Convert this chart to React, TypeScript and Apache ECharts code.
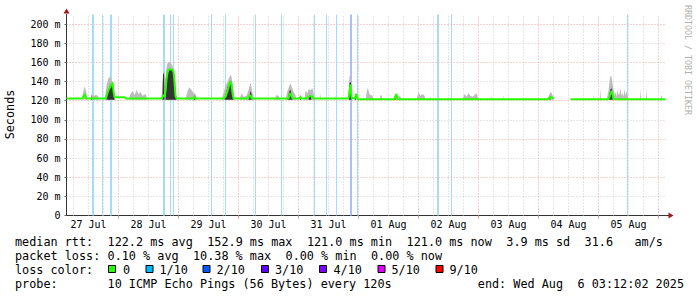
import React, { useEffect, useRef } from "react";
import * as echarts from "echarts";

// Time axis: hours since 27 Jul 2025 00:00
const rangeStartH = 3.2; // 27 Jul 03:12:02
const rangeEndH = 243.2; // 06 Aug 03:12:02
const dayLabels = ["27 Jul", "28 Jul", "29 Jul", "30 Jul", "31 Jul", "01 Aug", "02 Aug", "03 Aug", "04 Aug", "05 Aug"];
const dayLabelHours = [12, 36, 60, 84, 108, 132, 156, 180, 204, 228];
const midnightHours = [24, 48, 72, 96, 120, 144, 168, 192, 216, 240];
const yLabelValues = [0, 20, 40, 60, 80, 100, 120, 140, 160, 180, 200];

// Smoke (outer, light) – upper edge of ping spread, ms
const outerT = [3.2, 9.6, 10.0, 10.4, 10.8, 11.2, 11.6, 12.8, 13.2, 14.0, 15.2, 16.0, 16.4,
  18.4, 18.8, 19.2, 19.6, 20.0, 20.4, 20.8, 21.2, 21.6, 22.0, 22.4, 22.8,
  28.0, 28.8, 29.6, 30.4, 31.2, 32.0, 32.8, 33.6, 34.8, 35.6,
  41.2, 41.6, 42.0, 42.4, 42.8, 43.2, 43.6, 44.0, 44.8, 45.2, 45.6, 46.0, 46.4, 46.8, 47.2,
  50.8, 51.6, 52.4, 53.2, 54.0, 54.8, 55.6,
  65.2, 66.0, 66.8, 67.6, 68.4, 68.8, 69.2, 69.6, 70.0, 70.4,
  72.4, 73.2, 74.0, 75.2, 76.0, 76.8, 77.2, 77.6, 78.0, 78.4,
  86.4, 87.2, 88.0, 88.8,
  90.8, 91.6, 92.4, 92.8, 93.2, 94.0, 94.8, 95.2,
  98.4, 98.8, 99.6, 100.0, 100.8, 101.6, 102.0, 102.4,
  104.6, 104.8, 105.0, 110.6, 110.8, 111.0,
  116.0, 116.4, 116.8, 117.2, 118.4, 118.8, 119.2,
  122.8, 123.2, 123.6, 124.0, 124.4, 124.8, 125.6, 126.0,
  128.4, 128.8, 129.2, 129.6, 135.6, 136.0, 136.8, 137.2,
  143.2, 144.0, 144.8, 145.6, 146.4, 146.8, 148.6, 148.8, 149.0,
  161.6, 162.4, 163.2, 164.0, 164.8, 165.6, 166.4, 167.2, 168.0,
  173.0, 173.2, 173.4, 177.8, 178.0, 178.2,
  195.6, 196.4, 196.8, 197.2, 197.6, 198.0,
  213.8, 214.0, 214.2, 216.6, 216.8, 217.0,
  219.2, 220.0, 220.4, 220.8, 221.2, 221.6, 222.0, 222.4, 222.8, 223.2, 223.6, 224.0, 224.4, 224.8,
  225.2, 225.6, 226.0, 226.4, 226.8, 227.2, 227.6, 228.0,
  232.6, 232.8, 233.0, 235.0, 235.2, 235.4, 240.8, 241.2, 241.6, 242.8];
const outerV = [121, 121, 130, 135, 132, 128, 121, 121, 127, 125, 126, 124, 121,
  121, 128, 136, 140, 143, 145, 144, 142, 140, 134, 126, 121,
  121, 127, 130, 126, 131, 127, 129, 125, 127, 121,
  121, 140, 150, 150, 142, 155, 159, 160, 160, 158, 156, 154, 148, 136, 121,
  121, 130, 134, 131, 128, 127, 121,
  121, 128, 135, 140, 145, 147, 145, 138, 130, 121,
  121, 128, 124, 125, 131, 139, 134, 128, 124, 121,
  121, 126, 125, 121,
  121, 130, 136, 138, 135, 129, 126, 121,
  121, 130, 128, 132, 131, 133, 128, 121,
  121, 128, 121, 121, 126, 121,
  121, 146, 146, 121, 121, 129, 121,
  121, 128, 133, 131, 127, 126, 125, 121,
  121, 126, 125, 121, 121, 125, 124, 121,
  121, 129, 125, 127, 125, 121, 121, 125, 121,
  121, 127, 124, 128, 125, 124, 126, 128, 121,
  121, 125, 121, 121, 125, 121,
  121, 127, 129, 128, 126, 121,
  121, 126, 121, 121, 133, 121,
  121, 130, 140, 146, 145, 138, 132, 125, 129, 124, 131, 126, 127, 133,
  125, 128, 124, 132, 125, 130, 126, 121,
  121, 133, 121, 121, 134, 121, 121, 126, 121, 121];

// Smoke (inner, dark) – dense core of the ping spread, ms
const innerT = [3.2, 13.0, 13.2, 13.4,
  19.2, 19.6, 20.0, 20.4, 20.8, 21.2, 21.6, 22.0, 22.4,
  41.6, 41.8, 42.2, 42.4, 42.8, 43.2, 43.6, 44.0, 45.6, 46.0, 46.4, 46.8, 47.2,
  54.2, 54.4, 54.6,
  66.4, 66.8, 67.2, 67.6, 68.0, 68.4, 68.8, 69.2, 69.6, 70.0,
  76.0, 76.4, 76.8, 77.2, 77.6,
  91.6, 92.0, 92.4, 92.8, 93.2, 93.6,
  96.6, 96.8, 97.0,
  100.0, 100.4, 100.8, 101.2,
  116.2, 116.4, 117.0, 117.2,
  118.6, 118.8, 119.0,
  134.6, 134.8, 135.0,
  196.4, 196.6, 196.8,
  220.0, 220.4, 220.8, 221.2, 221.6, 222.0, 242.8];
const innerV = [121, 121, 126, 121,
  121, 128, 132, 135, 137, 138, 137, 130, 121,
  121, 148, 148, 121, 121, 138, 148, 152, 152, 149, 145, 128, 121,
  121, 127, 121,
  121, 126, 130, 134, 136, 139, 141, 139, 130, 121,
  121, 125, 130, 127, 121,
  121, 126, 130, 131, 127, 121,
  121, 127, 121,
  121, 126, 125, 121,
  121, 139, 139, 121,
  121, 127, 121,
  121, 126, 121,
  121, 125, 121,
  121, 128, 132, 133, 128, 121, 121];

// Median RTT, ms (null = no data)
const medianT = [3.2, 9.6, 10.4, 10.8, 11.2,
  18.8, 19.2, 19.6, 20.0, 20.4, 20.8, 21.2, 21.6, 22.0, 22.4, 26.4, 26.8,
  41.2, 41.6, 42.0, 42.4, 42.8, 43.2, 43.6, 44.0, 44.8, 45.6, 46.0, 46.4, 46.8, 47.2,
  54.0, 54.4, 54.8,
  66.0, 66.8, 67.2, 67.6, 68.0, 68.4, 68.8, 69.2, 69.6, 70.0,
  75.6, 76.4, 76.8, 77.2,
  92.0, 92.4, 92.8, 93.2, 93.6,
  96.4, 96.8, 97.2,
  99.2, 100.0, 100.8, 101.6, 102.0,
  116.0, 116.4, 116.8, 117.2, 117.6,
  118.4, 118.8, 119.2, 119.6,
  134.4, 134.8, 135.2, 135.6,
  196.0, 196.4, 197.6, 198.0, 198.2,
  204.8,
  220.0, 220.4, 220.8, 221.2, 221.6, 222.0, 242.8];
const medianV = [122.3, 122.3, 127, 124, 122.3,
  122.3, 124, 128, 131, 133, 135, 137, 139, 130, 123.5, 123.5, 122.3,
  122.3, 124, 126, 124, 130, 142, 149, 152, 153, 152, 150, 140, 125, 122.3,
  122.3, 124, 122.3,
  122.3, 124, 127, 130, 134, 138, 140, 137, 128, 122.3,
  122.3, 125, 126, 122.3,
  122.3, 126, 128, 125, 122.3,
  122.3, 124, 122.3,
  122.3, 124, 125, 124, 122.3,
  122.3, 130, 137, 124, 122.3,
  122.3, 124, 127, 121.5,
  121.5, 125, 127, 121.5,
  121.5, 123.5, 123.5, 121.5, null,
  121.5,
  121.5, 124, 128, 130, 127, 121.5, 121.5];

// Packet-loss intervals (hours) and loss level (n/10)
const lossStartH = [13.4, 17.4, 20.6, 41.8, 44.6, 45.8, 61.0, 66.6, 78.6, 89.0, 102.2, 107.0, 111.0, 116.6, 119.4, 151.4, 157.0, 227.4];
const lossEndH = [14.2, 17.8, 21.4, 42.6, 45.0, 46.2, 61.4, 67.0, 79.0, 89.4, 102.6, 107.4, 111.4, 117.4, 119.8, 152.2, 157.4, 227.8];
const lossLevel = [1, 1, 1, 1, 1, 1, 1, 1, 1, 1, 1, 1, 1, 2, 1, 1, 1, 1];

// Legend texts
const rttItems = ["median rtt:", "122.2 ms avg", "152.9 ms max", "121.0 ms min", "121.0 ms now", "3.9 ms sd", "31.6", "am/s"];
const lossItems = ["packet loss:", "0.10 % avg", "10.38 % max", "0.00 % min", "0.00 % now"];
const lossColorLabels = ["0", "1/10", "2/10", "3/10", "4/10", "5/10", "9/10"];
const lossColorValues = ["#26ff00", "#00b8ff", "#0059ff", "#5e00ff", "#7e00ff", "#dd00ff", "#ff0000"];
const probeItems = ["probe:", "10 ICMP Echo Pings (56 Bytes) every 120s", "end: Wed Aug", "6 03:12:02 2025"];

// layout (columns of the monospace legend)
const rttCols = [0, 13, 27, 41, 55, 69, 80, 87];
const lossCols = [0, 13, 25, 38, 50];
const probeCols = [0, 13, 65, 79];
const boxX = [108, 145.5, 202.5, 261, 319, 377.5, 435.5];
const boxLabelX = [123, 159.5, 216.5, 275, 333.5, 391.5, 449.5];

const MONO = '"DejaVu Sans Mono", monospace';
const colX = (c: number) => 15 + 7.12 * c;

export default function App() {
  const ref = useRef<HTMLDivElement>(null);
  useEffect(() => {
    document.body.style.margin = "0";
    const chart = echarts.init(ref.current!, undefined, { renderer: "svg" });

    const lossBg = ["#ffffff", "#a3ddf6", "#a9c0f6"];
    const lossLine = ["#26ff00", "#00b8ff", "#0059ff"];
    const gridHours: number[] = [];
    for (let h = 6; h < rangeEndH; h += 6) gridHours.push(h);

    const texts: any[] = [];
    const addRow = (items: string[], cols: number[], y: number) => {
      items.forEach((t, i) =>
        texts.push({
          type: "text",
          x: colX(cols[i]),
          y,
          silent: true,
          style: { text: t, fill: "#000", font: `11.8px ${MONO}`, align: "left", verticalAlign: "middle" },
        })
      );
    };
    addRow(rttItems, rttCols, 242.4);
    addRow(lossItems, lossCols, 256);
    addRow(["loss color:"], [0], 269.9);
    addRow(probeItems, probeCols, 284);
    lossColorLabels.forEach((t, i) => {
      texts.push({
        type: "rect",
        silent: true,
        shape: { x: boxX[i] + 0.5, y: 265.5, width: 7, height: 7 },
        style: { fill: lossColorValues[i], stroke: "#000", lineWidth: 1 },
      });
      texts.push({
        type: "text",
        x: boxLabelX[i],
        y: 269.9,
        silent: true,
        style: { text: t, fill: "#000", font: `11.8px ${MONO}`, align: "left", verticalAlign: "middle" },
      });
    });
    texts.push({
      type: "text",
      x: 10,
      y: 114.5,
      rotation: Math.PI / 2,
      silent: true,
      style: { text: "Seconds", fill: "#000", font: `11.8px ${MONO}`, align: "center", verticalAlign: "middle" },
    });
    texts.push({
      type: "text",
      x: 688,
      y: 60,
      rotation: -Math.PI / 2,
      silent: true,
      style: { text: "RRDTOOL / TOBI OETIKER", fill: "#b0b0b0", font: `8.3px ${MONO}`, align: "center", verticalAlign: "middle" },
    });
    texts.push({
      type: "line",
      silent: true,
      shape: { x1: 666.5, y1: 215.5, x2: 669, y2: 215.5 },
      style: { stroke: "#333", lineWidth: 1 },
    });
    texts.push({
      type: "polygon",
      silent: true,
      shape: { points: [[63.5, 13.5], [69.5, 13.5], [66.5, 8.5]] },
      style: { fill: "#a01818" },
    });
    texts.push({
      type: "polygon",
      silent: true,
      shape: { points: [[668.5, 212.5], [668.5, 218.5], [673.5, 215.5]] },
      style: { fill: "#a01818" },
    });

    const option: any = {
      animation: false,
      backgroundColor: "#ffffff",
      textStyle: { fontFamily: MONO },
      grid: { left: 66.5, top: 14.5, width: 600, height: 201, containLabel: false, outerBoundsMode: "none" },
      xAxis: {
        type: "value",
        min: rangeStartH,
        max: rangeEndH,
        axisLine: { show: true, onZero: false, lineStyle: { color: "#333", width: 1 } },
        axisTick: { show: true, customValues: midnightHours, length: 3, lineStyle: { color: "#d89090" } },
        axisLabel: {
          show: true,
          customValues: dayLabelHours,
          margin: 4,
          fontSize: 10,
          fontFamily: MONO,
          color: "#000",
          formatter: (v: number) => {
            const i = dayLabelHours.indexOf(Math.round(v));
            return i >= 0 ? dayLabels[i] : "";
          },
        },
        splitLine: { show: false },
      },
      yAxis: {
        type: "value",
        min: 0,
        max: 210,
        interval: 10,
        axisLine: { show: true, lineStyle: { color: "#333", width: 1 } },
        axisTick: { show: true, customValues: yLabelValues, length: 2, lineStyle: { color: "#666" } },
        axisLabel: {
          margin: 6,
          fontSize: 10,
          fontFamily: MONO,
          color: "#000",
          formatter: (v: number) => (yLabelValues.indexOf(v) >= 0 ? (v === 0 ? "0" : `${v} m`) : ""),
        },
        splitLine: { show: true, lineStyle: { color: ["#e8a0a0", "#cfcfcf"], type: [1, 2], width: 1 } },
      },
      visualMap: {
        show: false,
        type: "piecewise",
        seriesIndex: 2,
        dimension: 0,
        pieces: lossStartH.map((s, i) => ({ gte: s, lte: lossEndH[i], color: lossLine[lossLevel[i]] })),
        outOfRange: { color: "#26ff00" },
      },
      series: [
        {
          type: "line",
          name: "smoke",
          z: 2,
          silent: true,
          symbol: "none",
          data: outerT.map((t, i) => [t, outerV[i]]),
          lineStyle: { width: 0 },
          areaStyle: { color: "#bcbcbc", opacity: 1, origin: 121 },
          markLine: {
            silent: true,
            symbol: ["none", "none"],
            z: 1,
            label: { show: false },
            animation: false,
            data: gridHours.map((h) => ({
              xAxis: h,
              lineStyle: { color: h % 24 === 0 ? "#e8a0a0" : "#cfcfcf", type: [1, 2], width: 1 },
            })),
          },
          markArea: {
            silent: true,
            z: 1.5,
            animation: false,
            data: lossStartH.map((s, i) => [
              { xAxis: s, itemStyle: { color: lossBg[lossLevel[i]], opacity: 1, borderWidth: 0 } },
              { xAxis: lossEndH[i] },
            ]),
          },
        },
        {
          type: "line",
          name: "core",
          z: 3,
          silent: true,
          symbol: "none",
          data: innerT.map((t, i) => [t, innerV[i]]),
          lineStyle: { width: 0 },
          areaStyle: { color: "#333333", opacity: 1, origin: 121 },
        },
        {
          type: "line",
          name: "median",
          z: 4,
          silent: true,
          symbol: "none",
          connectNulls: false,
          data: medianT.map((t, i) => [t, medianV[i]]),
          lineStyle: { width: 2, color: "#26ff00" },
        },
      ],
      graphic: texts,
    };
    chart.setOption(option);
    return () => chart.dispose();
  }, []);
  return <div ref={ref} style={{ width: 697, height: 297 }} />;
}
